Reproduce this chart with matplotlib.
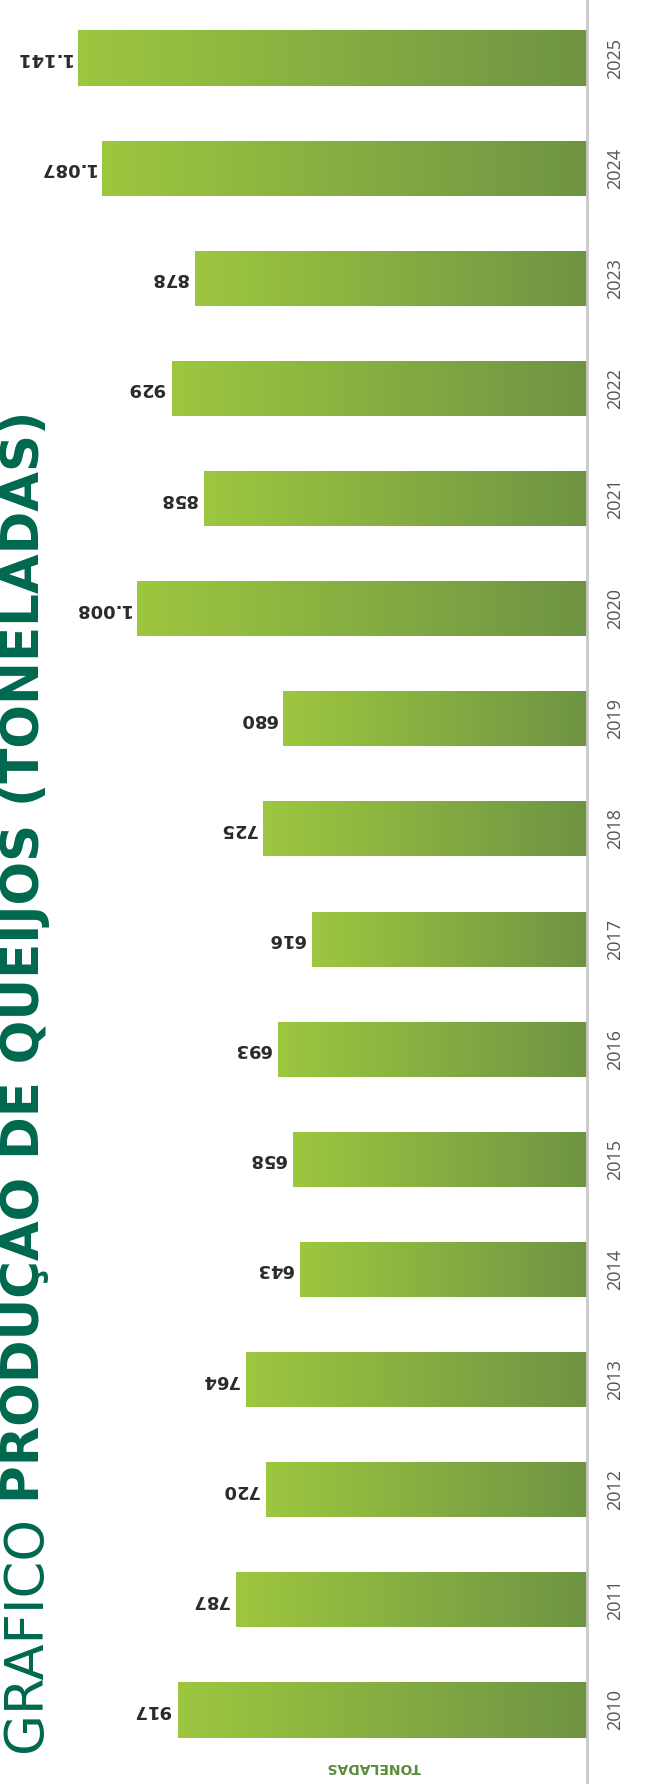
import numpy as np
import matplotlib.pyplot as plt
from matplotlib.colors import LinearSegmentedColormap

# dados (toneladas por ano)
anos = [2010, 2011, 2012, 2013, 2014, 2015, 2016, 2017,
        2018, 2019, 2020, 2021, 2022, 2023, 2024, 2025]
toneladas = [917, 787, 720, 764, 643, 658, 693, 616,
             725, 680, 1008, 858, 929, 878, 1087, 1141]
rotulos = ['917', '787', '720', '764', '643', '658', '693', '616',
           '725', '680', '1.008', '858', '929', '878', '1.087', '1.141']

titulo_leve = 'GRAFICO'
titulo_forte = 'PRODUÇAO DE QUEIJOS (TONELADAS)'
unidade = 'TONELADAS'

W, H = 647, 1784
verde_titulo = '#00684f'
verde = LinearSegmentedColormap.from_list('verde', ['#6e9444', '#9dc73f'])

fig = plt.figure(figsize=(W / 100, H / 100), dpi=100)
ax = fig.add_axes([50 / W, 0, (587 - 50) / W, 1])

barras = ax.barh(anos, toneladas, height=0.5, color='none', edgecolor='none')
grad = np.linspace(0, 1, 256).reshape(1, -1)
for b in barras:
    im = ax.imshow(grad, cmap=verde, aspect='auto', zorder=2,
                   extent=(b.get_x(), b.get_x() + b.get_width(),
                           b.get_y(), b.get_y() + b.get_height()))
    im.set_clip_path(b)

for ano, v, r in zip(anos, toneladas, rotulos):
    ax.annotate(r, xy=(v, ano), xytext=(-7, 0), textcoords='offset pixels',
                rotation=180, ha='right', va='center', fontsize=13,
                fontweight='bold', color='#2a2a2a')

ax.set_xlim(537 / 0.4464, 0)
ax.set_ylim(2010 - (H - 1710) / 110.1, 2025 + 58 / 110.1)
ax.set_yticks(anos)
ax.set_yticklabels([str(a) for a in anos])
ax.set_xticks([])
ax.tick_params(axis='y', left=False, labelleft=False, right=False,
               labelright=True, length=0, pad=14, labelrotation=90,
               labelsize=13, labelcolor='#555555')
for lab in ax.get_yticklabels():
    lab.set_va('center')
    lab.set_family('Open Sans')
for s in ['left', 'top', 'bottom']:
    ax.spines[s].set_visible(False)
ax.spines['right'].set_color('#c8c8c8')
ax.spines['right'].set_linewidth(2)

# titulo vertical
t1 = fig.text(0, 1 - 1752 / H, titulo_leve, rotation=90, ha='left',
              va='bottom', fontsize=38, color=verde_titulo,
              family='DejaVu Sans', fontweight='normal')
fig.canvas.draw()
bb = t1.get_window_extent()
fig.text(0, (bb.y1 + 13) / H, titulo_forte, rotation=90, ha='left',
         va='bottom', fontsize=37, color=verde_titulo, fontweight='bold')

fig.text(374 / W, 1 - 1767 / H, unidade, rotation=180, ha='center',
         va='center', fontsize=10, fontweight='bold', color='#5b8c3c')

fig.savefig('out.png', dpi=100)
